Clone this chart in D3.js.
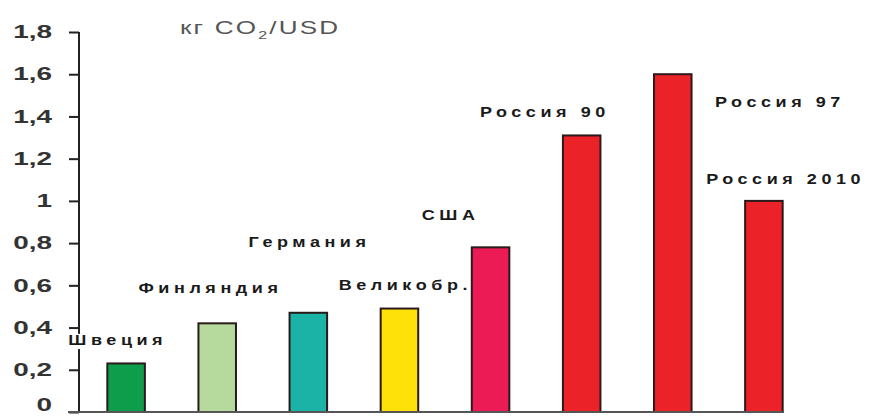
<!DOCTYPE html>
<html><head><meta charset="utf-8">
<script src="https://cdn.jsdelivr.net/npm/d3@7"></script>
<style>
body{margin:0;background:#fff;}
svg{display:block;font-family:"Liberation Sans",Arial,sans-serif;}
</style></head>
<body><svg id="chart" width="871" height="417"></svg>
<script>
const categories = ["Швеция","Финляндия","Германия","Великобр.","США","Россия 90","Россия 97","Россия 2010"];
const values = [0.23, 0.42, 0.47, 0.49, 0.78, 1.31, 1.60, 1.00];
const colors = ["#0e9d4a","#b6da9e","#1ab3a6","#ffe10a","#ec1a55","#ec2229","#ec2229","#ec2229"];
const yTicks = [0,0.2,0.4,0.6,0.8,1,1.2,1.4,1.6,1.8];
const unitLabel = ["кг CO","2","/USD"];
// label placement relative to each bar (left edge, top)
const labelOffsets = [[-39,-18],[-60,-30],[-41,-66],[-42,-19],[-50,-27],[-83,-18],[61,33],[-39,-17]];

const svg = d3.select("#chart");
const x = d3.scaleBand().domain(categories).range([80,810]).paddingInner(0.588).paddingOuter(0.3);
const y = d3.scaleLinear().domain([0,1.8]).range([412,32]);

// bars
svg.append("g").selectAll("rect").data(categories).join("rect")
  .attr("x", d=>x(d)).attr("width", x.bandwidth())
  .attr("y", (d,i)=>y(values[i])).attr("height",(d,i)=>y(0)-y(values[i]))
  .attr("fill",(d,i)=>colors[i]).attr("stroke","#2a1a1a").attr("stroke-width",2);

// y axis
const yAxis = d3.axisLeft(y).tickValues(yTicks).tickSize(10).tickPadding(17)
  .tickFormat(d=>d3.format("~g")(d).replace(".",","));
const ga = svg.append("g").attr("transform","translate(79,0)").call(yAxis);
ga.select(".domain").attr("stroke","#222").attr("stroke-width",2).attr("d","M0,32V412");
ga.selectAll(".tick line").attr("stroke","#222").attr("stroke-width",2);
ga.selectAll(".tick text").attr("fill","#333").attr("font-size",18).attr("font-weight","bold")
  .attr("font-family","'Liberation Sans',Arial,sans-serif")
  .each(function(d){
    const t=d3.select(this); const xx=+t.attr("x");
    const dy = d===0 ? -7 : 0;
    t.attr("x",null).attr("text-anchor","end").attr("transform",`translate(${xx},${dy}) scale(1.55,1)`);
  });

// baseline
svg.append("line").attr("x1",68).attr("x2",784).attr("y1",y(0)).attr("y2",y(0))
  .attr("stroke","#555").attr("stroke-width",2);

// category labels
const lg = svg.append("g");
categories.forEach((c,i)=>{
  const lx = x(c)+labelOffsets[i][0];
  const g = lg.append("g").attr("transform",`translate(${lx},${y(values[i])+labelOffsets[i][1]}) scale(1.2,1)`);
  const bg = g.append("rect").attr("fill","#fff");
  const t = g.append("text").text(c).attr("font-size",15).attr("font-weight","bold")
    .attr("fill","#1a1a1a").attr("letter-spacing",3.8);
  const bb = t.node().getBBox();
  bg.attr("x",bb.x-1).attr("y",bb.y+2).attr("width",bb.width-3).attr("height",bb.height-2);
});

// unit label
const ut = svg.append("text").attr("transform","translate(180,34) scale(1.45,1)")
  .attr("font-size",18).attr("fill","#555").attr("letter-spacing",1.5);
ut.append("tspan").text(unitLabel[0]);
ut.append("tspan").text(unitLabel[1]).attr("font-size",11).attr("dy",5);
ut.append("tspan").text(unitLabel[2]).attr("dy",-5);
</script></body></html>
